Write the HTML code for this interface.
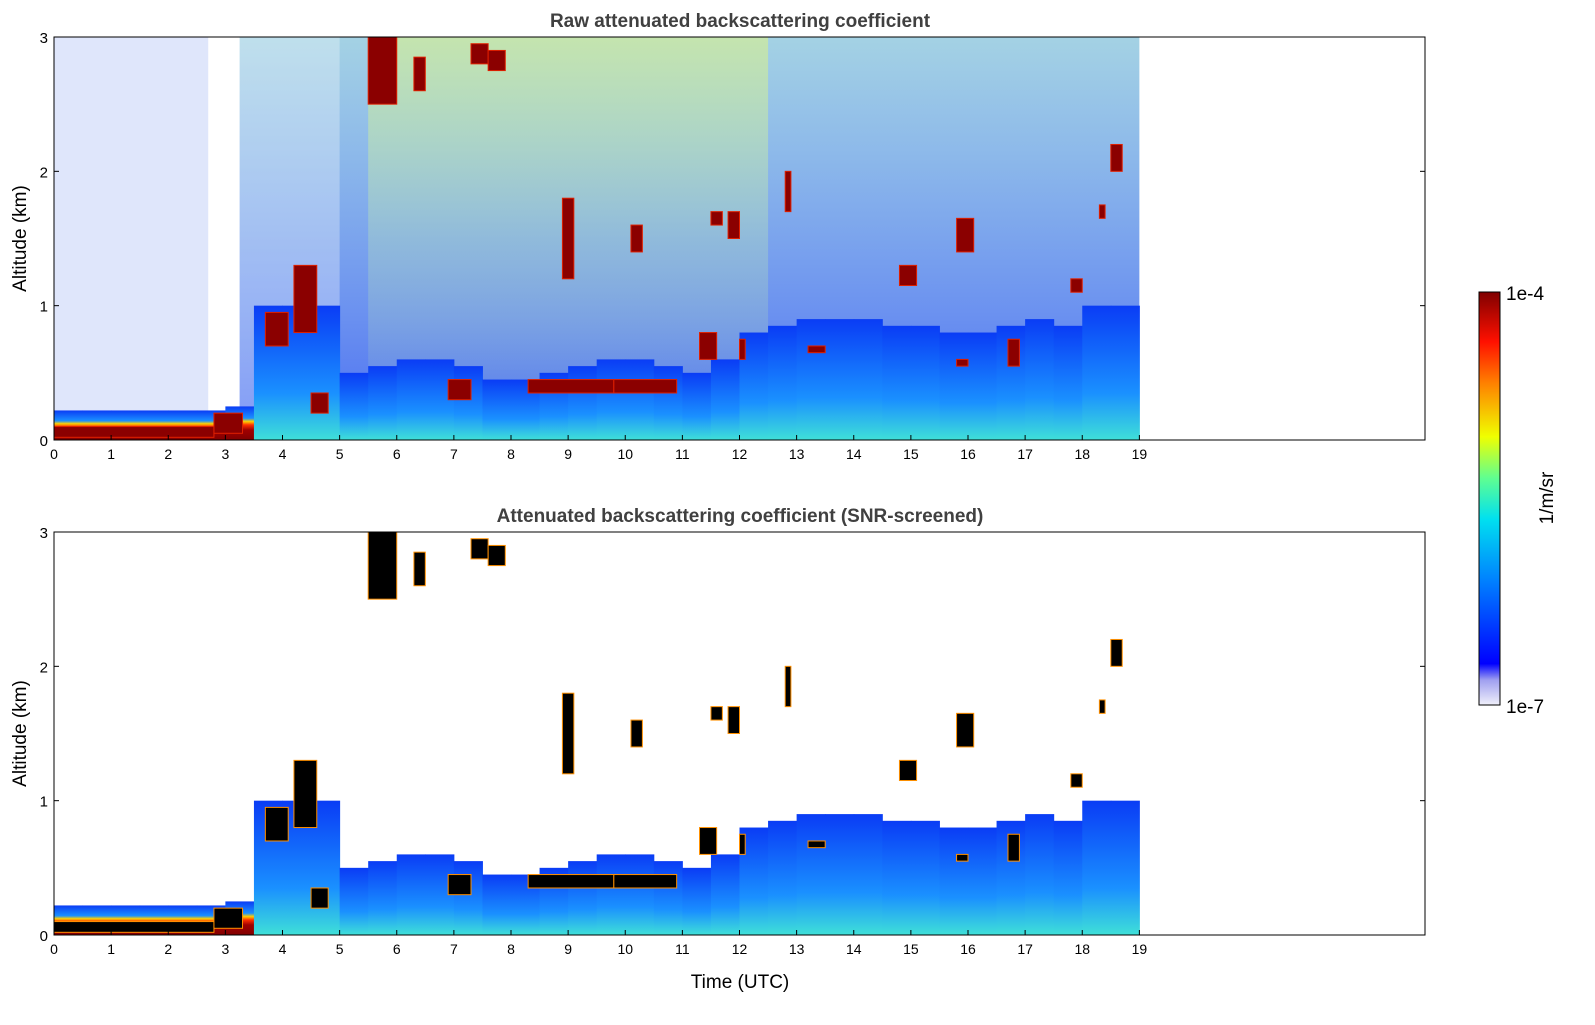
<!DOCTYPE html>
<html><head><meta charset="utf-8">
<style>
html,body{margin:0;padding:0;background:#fff;}
svg text{font-family:"Liberation Sans","DejaVu Sans",sans-serif;}
</style></head>
<body>
<svg id="chart" width="1595" height="1020" xmlns="http://www.w3.org/2000/svg">
<defs>
<linearGradient id="blGrad" x1="0" y1="1" x2="0" y2="0">
<stop offset="0" stop-color="#3fe0d8"/><stop offset="0.35" stop-color="#1a90ff"/><stop offset="1" stop-color="#0a3cf5"/>
</linearGradient>
<linearGradient id="blGradNight" x1="0" y1="1" x2="0" y2="0">
<stop offset="0" stop-color="#800000"/><stop offset="0.3" stop-color="#a00000"/><stop offset="0.45" stop-color="#ff3000"/><stop offset="0.55" stop-color="#ffd000"/><stop offset="0.65" stop-color="#1a90ff"/><stop offset="1" stop-color="#0a3cf5"/>
</linearGradient>
<linearGradient id="noiseGrad" x1="0" y1="1" x2="0" y2="0">
<stop offset="0" stop-color="#4a6ef2"/><stop offset="0.3" stop-color="#6a90f0"/><stop offset="0.7" stop-color="#8cb8ea"/><stop offset="1" stop-color="#a4d2e4"/>
</linearGradient>
<linearGradient id="noiseGradDay" x1="0" y1="1" x2="0" y2="0">
<stop offset="0" stop-color="#b8e0b0" stop-opacity="0"/><stop offset="0.5" stop-color="#b0dcc0" stop-opacity="0.4"/><stop offset="1" stop-color="#c8e6a8" stop-opacity="0.9"/>
</linearGradient>
<linearGradient id="cbGrad" x1="0" y1="1" x2="0" y2="0">
<stop offset="0" stop-color="#f0f0fa"/><stop offset="0.06" stop-color="#a0a0f0"/><stop offset="0.1" stop-color="#0000ff"/><stop offset="0.3" stop-color="#0080ff"/><stop offset="0.45" stop-color="#00e0f0"/><stop offset="0.55" stop-color="#60ff90"/><stop offset="0.65" stop-color="#f0ff00"/><stop offset="0.78" stop-color="#ff8000"/><stop offset="0.88" stop-color="#ff1000"/><stop offset="1" stop-color="#800000"/>
</linearGradient>
</defs>
<g id="top"></g>
<g id="bot"></g>
<g id="cb">
<rect x="1479" y="292" width="21" height="413" fill="url(#cbGrad)" stroke="#000" stroke-width="1"/>
<text x="1506" y="300" font-size="19">1e-4</text>
<text x="1506" y="713" font-size="19">1e-7</text>
<text transform="translate(1553,498) rotate(-90)" font-size="19" text-anchor="middle">1/m/sr</text>
</g>
<text x="740" y="988" font-size="19" text-anchor="middle">Time (UTC)</text>
</svg>
<script>
// half-hourly boundary layer heights (km), t = 0, 0.5, ... 18.5
const blhKm = [0.22,0.22,0.22,0.22,0.22,0.22,0.25,1.0,1.0,1.0,0.5,0.55,0.6,0.6,0.55,0.45,0.45,0.5,0.55,0.6,0.6,0.55,0.5,0.6,0.8,0.85,0.9,0.9,0.9,0.85,0.85,0.8,0.8,0.85,0.9,0.85,1.0,1.0];
// clouds: start time, end time, base km, top km
const cloudStart = [3.7,4.2,4.5,5.5,6.3,6.9,7.3,7.6,8.3,9.8,8.9,10.1,11.3,11.8,11.5,12.0,12.8,13.2,14.8,15.8,15.8,16.7,17.8,18.5,18.3,0.0,2.8];
const cloudEnd   = [4.1,4.6,4.8,6.0,6.5,7.3,7.6,7.9,9.8,10.9,9.1,10.3,11.6,12.0,11.7,12.1,12.9,13.5,15.1,16.1,16.0,16.9,18.0,18.7,18.4,2.8,3.3];
const cloudBase  = [0.7,0.8,0.2,2.5,2.6,0.3,2.8,2.75,0.35,0.35,1.2,1.4,0.6,1.5,1.6,0.6,1.7,0.65,1.15,1.4,0.55,0.55,1.1,2.0,1.65,0.02,0.05];
const cloudTop   = [0.95,1.3,0.35,3.0,2.85,0.45,2.95,2.9,0.45,0.45,1.8,1.6,0.8,1.7,1.7,0.75,2.0,0.7,1.3,1.65,0.6,0.75,1.2,2.2,1.75,0.1,0.2];
const xTicks = [0,1,2,3,4,5,6,7,8,9,10,11,12,13,14,15,16,17,18,19];
const yTicks = [0,1,2,3];

const NS='http://www.w3.org/2000/svg';
const X0=54, X1=1425, HOURS=24;
const xs = t => X0 + t*(X1-X0)/HOURS;
function mk(tag, attrs, parent){const e=document.createElementNS(NS,tag);for(const k in attrs)e.setAttribute(k,attrs[k]);parent.appendChild(e);return e;}

function panel(g, top, bottom, raw, title){
  const ys = z => bottom - z*(bottom-top)/3;
  if(raw){
    let r=mk('rect',{x:xs(0),y:top,width:xs(2.7)-xs(0),height:bottom-top,fill:'#dfe6fb'},g);
     
    r=mk('rect',{x:xs(3.25),y:top,width:xs(19)-xs(3.25),height:bottom-top,fill:'url(#noiseGrad)'},g);
     
    r=mk('rect',{x:xs(3.25),y:top,width:xs(5)-xs(3.25),height:bottom-top,fill:'#ffffff',opacity:0.3},g);
     
    r=mk('rect',{x:xs(5.5),y:top,width:xs(12.5)-xs(5.5),height:bottom-top,fill:'url(#noiseGradDay)'},g);
     
  }
  blhKm.forEach((h,i)=>{
    const t=i*0.5;
    const night = t<3.25;
    const r=mk('rect',{x:xs(t),y:ys(h),width:xs(t+0.5)-xs(t)+0.5,height:ys(0)-ys(h),fill: night?'url(#blGradNight)':'url(#blGrad)'},g);
    
    
  });
  cloudStart.forEach((s,i)=>{
    const r=mk('rect',{x:xs(s),y:ys(cloudTop[i]),width:xs(cloudEnd[i])-xs(s),height:ys(cloudBase[i])-ys(cloudTop[i]),
      fill: raw?'#8b0000':'#000', stroke: raw?'#e02000':'#ff9000','stroke-width':1},g);
    
    
  });
  let f=mk('rect',{x:X0,y:top,width:X1-X0,height:bottom-top,fill:'none',stroke:'#000','stroke-width':1},g);
   
  xTicks.forEach(v=>{
    let l=mk('line',{x1:xs(v),x2:xs(v),y1:bottom,y2:bottom-5,stroke:'#000'},g);
     
    let t=mk('text',{x:xs(v),y:bottom+19,'font-size':14,'text-anchor':'middle'},g); t.textContent=v;
     
  });
  yTicks.forEach(v=>{
    let l=mk('line',{x1:X0,x2:X0+5,y1:ys(v),y2:ys(v),stroke:'#000'},g);
     
    l=mk('line',{x1:X1,x2:X1-5,y1:ys(v),y2:ys(v),stroke:'#000'},g);
     
    let t=mk('text',{x:X0-6,y:ys(v)+6,'font-size':15,'text-anchor':'end'},g); t.textContent=v;
     
  });
  let yt=mk('text',{transform:`translate(26,${(top+bottom)/2}) rotate(-90)`,'font-size':19,'text-anchor':'middle'},g);
  yt.textContent='Altitude (km)';
   
  let tt=mk('text',{x:740,y:top-10,'font-size':19,'font-weight':'bold','text-anchor':'middle',fill:'#404040'},g);
  tt.textContent=title;
   
}
panel(document.getElementById('top'),37,440,true,'Raw attenuated backscattering coefficient');
panel(document.getElementById('bot'),532,935,false,'Attenuated backscattering coefficient (SNR-screened)');
</script>
</body></html>
